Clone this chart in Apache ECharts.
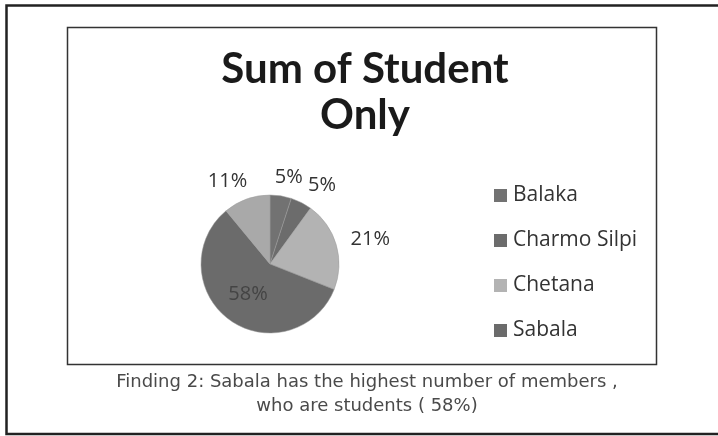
<!DOCTYPE html>
<html>
<head>
<meta charset="utf-8">
<script src="https://cdn.jsdelivr.net/npm/echarts@6/dist/echarts.min.js"></script>
<style>
html,body{margin:0;padding:0;background:#fff;}
#chart{width:718px;height:436px;}
</style>
</head>
<body>
<div id="chart"></div>
<script>
const categories = ['Balaka', 'Charmo Silpi', 'Chetana', 'Sabala', 'Other'];
const values = [5, 5, 21, 58, 11];
const legendItems = ['Balaka', 'Charmo Silpi', 'Chetana', 'Sabala'];
const sliceColors = ['#727272', '#6c6c6c', '#b3b3b3', '#6b6b6b', '#a9a9a9'];
const titleText = 'Sum of Student\nOnly';
const captionLines = ['Finding 2: Sabala has the highest number of members ,', 'who are students ( 58%)'];

const labelShift = { 'Charmo Silpi': -7, 'Chetana': -9, 'Other': 12 };

const chart = echarts.init(document.getElementById('chart'));
const data = categories.map((c, i) => {
  const item = { name: c, value: values[i], itemStyle: { color: sliceColors[i] } };
  if (c === 'Sabala') item.label = { position: 'inside', color: '#444' };
  return item;
});

chart.setOption({
  animation: false,
  backgroundColor: '#fff',
  title: {
    text: titleText,
    left: 360,
    top: 41,
    textAlign: 'center',
    textStyle: { fontFamily: 'Lato', fontWeight: 'bold', fontSize: 42, lineHeight: 46, color: '#1a1a1a' }
  },
  legend: {
    data: legendItems,
    orient: 'vertical',
    left: 489,
    top: 177,
    itemWidth: 13,
    itemHeight: 13,
    itemGap: 18,
    icon: 'rect',
    itemStyle: { borderWidth: 0 },
    textStyle: { fontFamily: 'Open Sans', fontSize: 21, lineHeight: 27, color: '#333', padding: [0, 0, 0, 1] }
  },
  graphic: [
    { type: 'rect', shape: { x: 6.5, y: 5.5, width: 730, height: 428.5 }, style: { fill: 'none', stroke: '#222', lineWidth: 2.5 }, silent: true },
    { type: 'rect', shape: { x: 67.5, y: 27.5, width: 589, height: 337 }, style: { fill: 'none', stroke: '#333', lineWidth: 1.5 }, silent: true },
    { type: 'text', x: 367, y: 373, style: { text: captionLines[0], font: '18px "DejaVu Sans"', fill: '#4a4a4a', align: 'center' } },
    { type: 'text', x: 367, y: 397, style: { text: captionLines[1], font: '18px "DejaVu Sans"', fill: '#4a4a4a', align: 'center' } }
  ],
  series: [{
    type: 'pie',
    center: [270, 264],
    radius: 69,
    startAngle: 90,
    clockwise: true,
    avoidLabelOverlap: false,
    data: data,
    itemStyle: { borderColor: '#9a9a9a', borderWidth: 0.5 },
    label: {
      show: true,
      formatter: '{d}%',
      fontFamily: 'Open Sans',
      fontSize: 20,
      color: '#333'
    },
    labelLine: { show: false, length: 19, length2: 0 },
    labelLayout: function (p) {
      const name = categories[p.dataIndex];
      if (name === 'Balaka') return { align: 'center' };
      if (labelShift[name] !== undefined) return { dx: labelShift[name] };
      return {};
    }
  }]
});
</script>
</body>
</html>
